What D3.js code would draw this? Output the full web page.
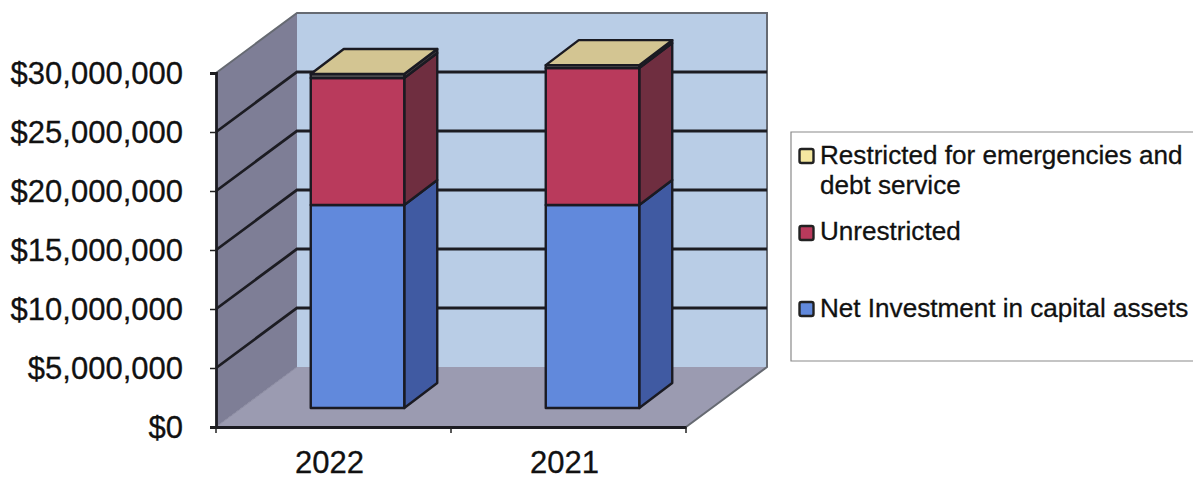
<!DOCTYPE html>
<html><head><meta charset="utf-8">
<script src="https://cdn.jsdelivr.net/npm/d3@7/dist/d3.min.js"></script>
<style>html,body{margin:0;padding:0;background:#fff;overflow:hidden}svg{display:block}text{font-family:"Liberation Sans",Arial,sans-serif;fill:#111;stroke:#111;stroke-width:.3px}</style>
</head><body><svg id="c" width="1193" height="479"></svg>
<script>
const categories = ["2022", "2021"];
const netInvestment = [17200000, 17200000];
const unrestricted = [10770000, 11600000];
const restricted = [340000, 260000];
const yTicks = [0, 5000000, 10000000, 15000000, 20000000, 25000000, 30000000];
const legendLines = [["Restricted for emergencies and", "debt service"], ["Unrestricted"], ["Net Investment in capital assets"]];

const svg = d3.select("#c");
const y = d3.scaleLinear().domain([0, 30000000]).range([427, 73]);
const x = d3.scaleBand().domain(categories).range([216, 686]);
const depth = {dx: 81, dy: -60};
const barDepth = {dx: 33, dy: -25};
const base = {dx: 0, dy: -19};
const barW = 93.5;
const poly = pts => pts.map(p => p.join(",")).join(" ");
const ink = "#1a1a22";

// walls
svg.append("polygon").attr("points", poly([[216, y(30000000)], [216 + depth.dx, y(30000000) + depth.dy], [216 + depth.dx, y(0) + depth.dy], [216, y(0)]])).attr("fill", "#7e7e96");
svg.append("polygon").attr("points", poly([[216 + depth.dx, y(30000000) + depth.dy], [686 + depth.dx, y(30000000) + depth.dy], [686 + depth.dx, y(0) + depth.dy], [216 + depth.dx, y(0) + depth.dy]])).attr("fill", "#b9cde6");
svg.append("polygon").attr("points", poly([[216, y(0)], [686, y(0)], [686 + depth.dx, y(0) + depth.dy], [216 + depth.dx, y(0) + depth.dy]])).attr("fill", "#9b9bb1");
// wall outline
svg.append("path").attr("d", `M216,${y(30000000)}L${216 + depth.dx},${y(30000000) + depth.dy}H${686 + depth.dx}V${y(0) + depth.dy}L686,${y(0)}`).attr("fill", "none").attr("stroke", "#666a72").attr("stroke-width", 2);

// gridlines
yTicks.filter(t => t > 0 && t < 30000000).forEach(t => {
  svg.append("path").attr("d", `M216,${y(t)}L${216 + depth.dx},${y(t) + depth.dy}H${686 + depth.dx}`).attr("fill", "none").attr("stroke", "#1c1c22").attr("stroke-width", 2.8);
});
svg.append("path").attr("d", `M216,${y(0)}L${216 + depth.dx},${y(0) + depth.dy}`).attr("stroke", "#8a8aa0").attr("stroke-width", 1);

// bars
const seriesList = [
  {vals: netInvestment, front: "#6189dc", side: "#405aa2", top: "#7f9fe6"},
  {vals: unrestricted, front: "#b93a5c", side: "#6f2e40", top: "#8a3a50"},
  {vals: restricted, front: "#5d5d5c", side: "#4b4446", top: "#d3c592"}
];
categories.forEach((c, i) => {
  const x0 = x(c) + (x.bandwidth() - barW) / 2 + base.dx + 24;
  let acc = 0;
  seriesList.forEach((s, si) => {
    const yb = y(acc) + base.dy, yt = y(acc + s.vals[i]) + base.dy;
    acc += s.vals[i];
    const g = svg.append("g").attr("stroke", ink).attr("stroke-width", 2.4).attr("stroke-linejoin", "round");
    g.append("polygon").attr("points", poly([[x0 + barW, yb], [x0 + barW + barDepth.dx, yb + barDepth.dy], [x0 + barW + barDepth.dx, yt + barDepth.dy], [x0 + barW, yt]])).attr("fill", s.side);
    g.append("rect").attr("x", x0).attr("y", yt).attr("width", barW).attr("height", yb - yt).attr("fill", s.front);
    if (si === seriesList.length - 1) {
      g.append("polygon").attr("points", poly([[x0, yt], [x0 + barW, yt], [x0 + barW + barDepth.dx, yt + barDepth.dy], [x0 + barDepth.dx, yt + barDepth.dy]])).attr("fill", s.top);
    }
  });
});

// axes
const fmt = d => "$" + d3.format(",")(d);
const ya = svg.append("g").attr("transform", "translate(216,0)").call(d3.axisLeft(y).tickValues(yTicks).tickFormat(fmt).tickSize(6).tickPadding(27));
ya.selectAll("text").attr("font-size", 31).attr("dy", "0.35em");
const xa = svg.append("g").attr("transform", `translate(0,${y(0)})`).call(d3.axisBottom(x).tickSize(0).tickPadding(24));
xa.selectAll("text").attr("font-size", 31).attr("dy", "0.71em").attr("dx", -4);
const edges = [216, 451, 686];
edges.forEach(e => svg.append("line").attr("x1", e).attr("x2", e).attr("y1", y(0)).attr("y2", y(0) + 6).attr("stroke", "#222").attr("stroke-width", 1.5));
svg.selectAll(".domain").attr("stroke", "#1c1c22").attr("stroke-width", 2.8);
svg.selectAll(".tick line").attr("stroke", "#222").attr("stroke-width", 1.5);

// legend
const lg = svg.append("g");
lg.append("path").attr("d", "M1193,132H791V361H1193").attr("fill", "#fff").attr("stroke", "#8a8a8a").attr("stroke-width", 1.2);
const legendFill = ["#f5e8a0", "#b93a5c", "#6189dc"];
const legendSwatchY = [156, 233, 309];
const legendBase = [164, 240, 317];
legendLines.forEach((lines, i) => {
  lg.append("rect").attr("x", 799.5).attr("y", legendSwatchY[i] - 7).attr("width", 14).attr("height", 14).attr("rx", 2).attr("fill", legendFill[i]).attr("stroke", "#222").attr("stroke-width", 2.4);
  lines.forEach((t, j) => {
    lg.append("text").attr("x", 820).attr("y", legendBase[i] + j * 30).attr("font-size", 26.1).text(t);
  });
});
</script></body></html>
